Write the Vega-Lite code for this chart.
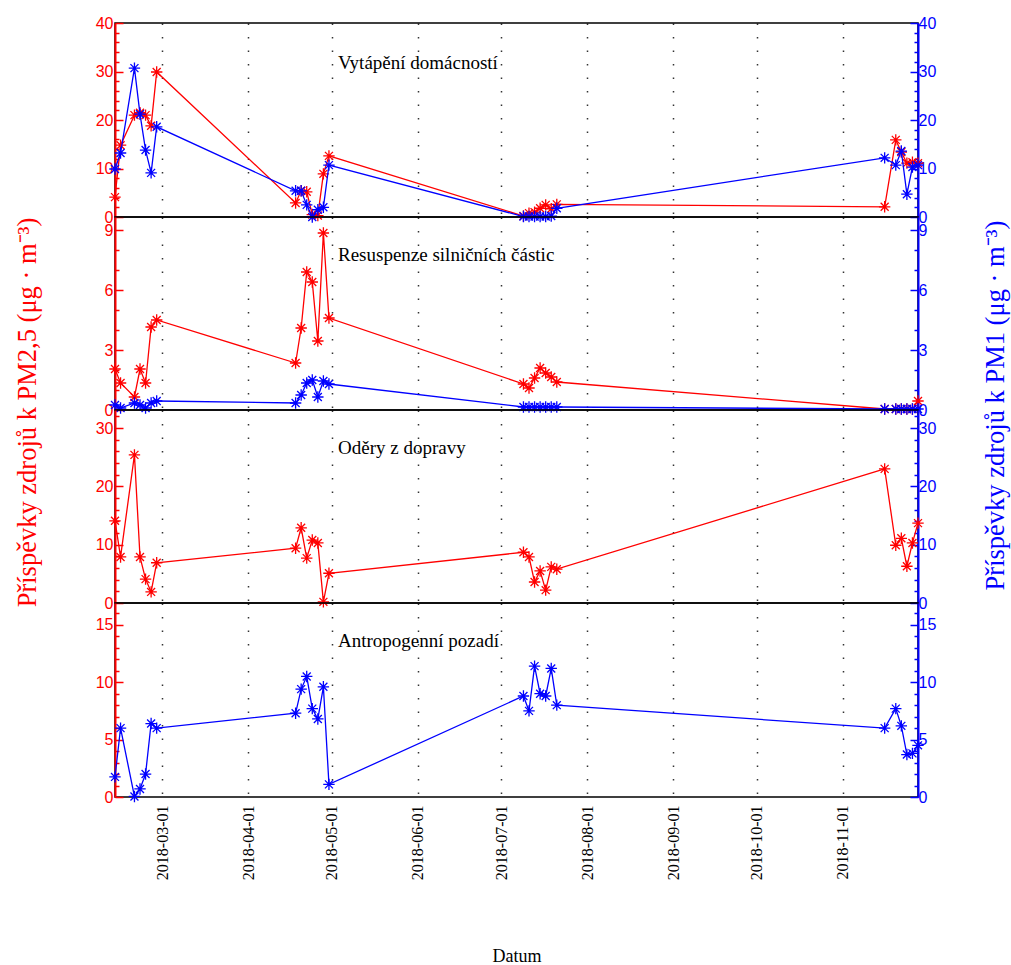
{
  "$schema": "https://vega.github.io/schema/vega-lite/v6.json",
  "background": "white",
  "padding": {"left": 13, "top": 14, "right": 5, "bottom": 5},
  "data": {"values": [
    {"z": "Vytápění domácností", "d": "2018-02-12", "pm25": 4.1, "pm1": 9.9},
    {"z": "Vytápění domácností", "d": "2018-02-14", "pm25": 14.8, "pm1": 13.2},
    {"z": "Vytápění domácností", "d": "2018-02-19", "pm25": 21, "pm1": 30.7},
    {"z": "Vytápění domácností", "d": "2018-02-21", "pm25": 21.5, "pm1": 21.2},
    {"z": "Vytápění domácností", "d": "2018-02-23", "pm25": 21, "pm1": 13.8},
    {"z": "Vytápění domácností", "d": "2018-02-25", "pm25": 18.8, "pm1": 9.1},
    {"z": "Vytápění domácností", "d": "2018-02-27", "pm25": 29.9, "pm1": 18.6},
    {"z": "Vytápění domácností", "d": "2018-04-18", "pm25": 2.9, "pm1": 5.4},
    {"z": "Vytápění domácností", "d": "2018-04-20", "pm25": 5.4, "pm1": 5.4},
    {"z": "Vytápění domácností", "d": "2018-04-22", "pm25": 5.2, "pm1": 2.5},
    {"z": "Vytápění domácností", "d": "2018-04-24", "pm25": 0.5, "pm1": 0},
    {"z": "Vytápění domácností", "d": "2018-04-26", "pm25": 0.3, "pm1": 1.5},
    {"z": "Vytápění domácností", "d": "2018-04-28", "pm25": 8.9, "pm1": 2},
    {"z": "Vytápění domácností", "d": "2018-04-30", "pm25": 12.6, "pm1": 10.7},
    {"z": "Vytápění domácností", "d": "2018-07-09", "pm25": 0.2, "pm1": 0.1},
    {"z": "Vytápění domácností", "d": "2018-07-11", "pm25": 0.8, "pm1": 0.1},
    {"z": "Vytápění domácností", "d": "2018-07-13", "pm25": 1.0, "pm1": 0.1},
    {"z": "Vytápění domácností", "d": "2018-07-15", "pm25": 1.8, "pm1": 0.1},
    {"z": "Vytápění domácností", "d": "2018-07-17", "pm25": 2.5, "pm1": 0.1},
    {"z": "Vytápění domácností", "d": "2018-07-19", "pm25": 1.7, "pm1": 0.2},
    {"z": "Vytápění domácností", "d": "2018-07-21", "pm25": 2.6, "pm1": 1.8},
    {"z": "Vytápění domácností", "d": "2018-11-16", "pm25": 2.1, "pm1": 12.2},
    {"z": "Vytápění domácností", "d": "2018-11-20", "pm25": 15.9, "pm1": 10.7},
    {"z": "Vytápění domácností", "d": "2018-11-22", "pm25": 13.4, "pm1": 13.6},
    {"z": "Vytápění domácností", "d": "2018-11-24", "pm25": 11.1, "pm1": 4.7},
    {"z": "Vytápění domácností", "d": "2018-11-26", "pm25": 11.3, "pm1": 10.3},
    {"z": "Vytápění domácností", "d": "2018-11-28", "pm25": 11.1, "pm1": 10.7},

    {"z": "Resuspenze silničních částic", "d": "2018-02-12", "pm25": 2.05, "pm1": 0.25},
    {"z": "Resuspenze silničních částic", "d": "2018-02-14", "pm25": 1.35, "pm1": 0.1},
    {"z": "Resuspenze silničních částic", "d": "2018-02-19", "pm25": 0.65, "pm1": 0.35},
    {"z": "Resuspenze silničních částic", "d": "2018-02-21", "pm25": 2.05, "pm1": 0.25},
    {"z": "Resuspenze silničních částic", "d": "2018-02-23", "pm25": 1.35, "pm1": 0.1},
    {"z": "Resuspenze silničních částic", "d": "2018-02-25", "pm25": 4.15, "pm1": 0.35},
    {"z": "Resuspenze silničních částic", "d": "2018-02-27", "pm25": 4.5, "pm1": 0.45},
    {"z": "Resuspenze silničních částic", "d": "2018-04-18", "pm25": 2.35, "pm1": 0.35},
    {"z": "Resuspenze silničních částic", "d": "2018-04-20", "pm25": 4.1, "pm1": 0.75},
    {"z": "Resuspenze silničních částic", "d": "2018-04-22", "pm25": 6.9, "pm1": 1.35},
    {"z": "Resuspenze silničních částic", "d": "2018-04-24", "pm25": 6.4, "pm1": 1.5},
    {"z": "Resuspenze silničních částic", "d": "2018-04-26", "pm25": 3.45, "pm1": 0.65},
    {"z": "Resuspenze silničních částic", "d": "2018-04-28", "pm25": 8.85, "pm1": 1.45},
    {"z": "Resuspenze silničních částic", "d": "2018-04-30", "pm25": 4.6, "pm1": 1.3},
    {"z": "Resuspenze silničních částic", "d": "2018-07-09", "pm25": 1.3, "pm1": 0.15},
    {"z": "Resuspenze silničních částic", "d": "2018-07-11", "pm25": 1.1, "pm1": 0.15},
    {"z": "Resuspenze silničních částic", "d": "2018-07-13", "pm25": 1.6, "pm1": 0.15},
    {"z": "Resuspenze silničních částic", "d": "2018-07-15", "pm25": 2.1, "pm1": 0.15},
    {"z": "Resuspenze silničních částic", "d": "2018-07-17", "pm25": 1.85, "pm1": 0.15},
    {"z": "Resuspenze silničních částic", "d": "2018-07-19", "pm25": 1.65, "pm1": 0.15},
    {"z": "Resuspenze silničních částic", "d": "2018-07-21", "pm25": 1.4, "pm1": 0.15},
    {"z": "Resuspenze silničních částic", "d": "2018-11-16", "pm25": 0.05, "pm1": 0.05},
    {"z": "Resuspenze silničních částic", "d": "2018-11-20", "pm25": 0.05, "pm1": 0.05},
    {"z": "Resuspenze silničních částic", "d": "2018-11-22", "pm25": 0.05, "pm1": 0.05},
    {"z": "Resuspenze silničních částic", "d": "2018-11-24", "pm25": 0.05, "pm1": 0.05},
    {"z": "Resuspenze silničních částic", "d": "2018-11-26", "pm25": 0.05, "pm1": 0.05},
    {"z": "Resuspenze silničních částic", "d": "2018-11-28", "pm25": 0.45, "pm1": 0.05},

    {"z": "Oděry z dopravy", "d": "2018-02-12", "pm25": 14.1},
    {"z": "Oděry z dopravy", "d": "2018-02-14", "pm25": 7.9},
    {"z": "Oděry z dopravy", "d": "2018-02-19", "pm25": 25.4},
    {"z": "Oděry z dopravy", "d": "2018-02-21", "pm25": 7.9},
    {"z": "Oděry z dopravy", "d": "2018-02-23", "pm25": 4.1},
    {"z": "Oděry z dopravy", "d": "2018-02-25", "pm25": 1.9},
    {"z": "Oděry z dopravy", "d": "2018-02-27", "pm25": 6.9},
    {"z": "Oděry z dopravy", "d": "2018-04-18", "pm25": 9.4},
    {"z": "Oděry z dopravy", "d": "2018-04-20", "pm25": 12.9},
    {"z": "Oděry z dopravy", "d": "2018-04-22", "pm25": 7.7},
    {"z": "Oděry z dopravy", "d": "2018-04-24", "pm25": 10.8},
    {"z": "Oděry z dopravy", "d": "2018-04-26", "pm25": 10.3},
    {"z": "Oděry z dopravy", "d": "2018-04-28", "pm25": 0.2},
    {"z": "Oděry z dopravy", "d": "2018-04-30", "pm25": 5.1},
    {"z": "Oděry z dopravy", "d": "2018-07-09", "pm25": 8.7},
    {"z": "Oděry z dopravy", "d": "2018-07-11", "pm25": 7.9},
    {"z": "Oděry z dopravy", "d": "2018-07-13", "pm25": 3.6},
    {"z": "Oděry z dopravy", "d": "2018-07-15", "pm25": 5.5},
    {"z": "Oděry z dopravy", "d": "2018-07-17", "pm25": 2.2},
    {"z": "Oděry z dopravy", "d": "2018-07-19", "pm25": 6.2},
    {"z": "Oděry z dopravy", "d": "2018-07-21", "pm25": 5.8},
    {"z": "Oděry z dopravy", "d": "2018-11-16", "pm25": 23},
    {"z": "Oděry z dopravy", "d": "2018-11-20", "pm25": 9.9},
    {"z": "Oděry z dopravy", "d": "2018-11-22", "pm25": 11.1},
    {"z": "Oděry z dopravy", "d": "2018-11-24", "pm25": 6.3},
    {"z": "Oděry z dopravy", "d": "2018-11-26", "pm25": 10.3},
    {"z": "Oděry z dopravy", "d": "2018-11-28", "pm25": 13.7},

    {"z": "Antropogenní pozadí", "d": "2018-02-12", "pm1": 1.75},
    {"z": "Antropogenní pozadí", "d": "2018-02-14", "pm1": 6.0},
    {"z": "Antropogenní pozadí", "d": "2018-02-19", "pm1": 0.05},
    {"z": "Antropogenní pozadí", "d": "2018-02-21", "pm1": 0.7},
    {"z": "Antropogenní pozadí", "d": "2018-02-23", "pm1": 2.0},
    {"z": "Antropogenní pozadí", "d": "2018-02-25", "pm1": 6.4},
    {"z": "Antropogenní pozadí", "d": "2018-02-27", "pm1": 6.0},
    {"z": "Antropogenní pozadí", "d": "2018-04-18", "pm1": 7.3},
    {"z": "Antropogenní pozadí", "d": "2018-04-20", "pm1": 9.4},
    {"z": "Antropogenní pozadí", "d": "2018-04-22", "pm1": 10.5},
    {"z": "Antropogenní pozadí", "d": "2018-04-24", "pm1": 7.7},
    {"z": "Antropogenní pozadí", "d": "2018-04-26", "pm1": 6.8},
    {"z": "Antropogenní pozadí", "d": "2018-04-28", "pm1": 9.6},
    {"z": "Antropogenní pozadí", "d": "2018-04-30", "pm1": 1.1},
    {"z": "Antropogenní pozadí", "d": "2018-07-09", "pm1": 8.8},
    {"z": "Antropogenní pozadí", "d": "2018-07-11", "pm1": 7.5},
    {"z": "Antropogenní pozadí", "d": "2018-07-13", "pm1": 11.4},
    {"z": "Antropogenní pozadí", "d": "2018-07-15", "pm1": 9.0},
    {"z": "Antropogenní pozadí", "d": "2018-07-17", "pm1": 8.8},
    {"z": "Antropogenní pozadí", "d": "2018-07-19", "pm1": 11.2},
    {"z": "Antropogenní pozadí", "d": "2018-07-21", "pm1": 8.0},
    {"z": "Antropogenní pozadí", "d": "2018-11-16", "pm1": 6.0},
    {"z": "Antropogenní pozadí", "d": "2018-11-20", "pm1": 7.7},
    {"z": "Antropogenní pozadí", "d": "2018-11-22", "pm1": 6.2},
    {"z": "Antropogenní pozadí", "d": "2018-11-24", "pm1": 3.7},
    {"z": "Antropogenní pozadí", "d": "2018-11-26", "pm1": 3.8},
    {"z": "Antropogenní pozadí", "d": "2018-11-28", "pm1": 4.5}
  ]},
  "config": {
    "view": {"stroke": "#000000", "strokeWidth": 1.5},
    "axis": {"labelFont": "Liberation Sans", "labelFontSize": 16, "titleFont": "Liberation Serif", "titleFontWeight": "normal"},
    "title": {"font": "Liberation Serif", "fontSize": 19, "fontWeight": "normal", "anchor": "start", "frame": "group", "color": "#000000", "baseline": "middle", "dx": 223, "offset": -48},
    "line": {"strokeWidth": 1.3},
    "point": {"filled": false, "strokeWidth": 1.3, "size": 130, "opacity": 1, "shape": "M-1,0L1,0M0,-1L0,1M-0.7,-0.7L0.7,0.7M-0.7,0.7L0.7,-0.7"}
  },
  "spacing": 0,
  "bounds": "flush",
  "vconcat": [
    {
      "width": 803, "height": 194,
      "title": {"text": "Vytápění domácností", "offset": -58},
      "transform": [{"filter": {"field": "z", "equal": "Vytápění domácností"}}],
      "encoding": {"x": {"field": "d", "type": "temporal", "scale": {"type": "utc", "domain": [{"year": 2018, "month": 2, "date": 12, "utc": true}, {"year": 2018, "month": 11, "date": 28, "utc": true}]},
        "axis": {"grid": true, "gridColor": "#000000", "gridDash": [1.5, 12], "gridWidth": 1.5, "gridOpacity": 0.8, "labels": false, "ticks": false, "domain": false, "title": null,
          "values": [{"year": 2018, "month": 3, "date": 1, "utc": true}, {"year": 2018, "month": 4, "date": 1, "utc": true}, {"year": 2018, "month": 5, "date": 1, "utc": true}, {"year": 2018, "month": 6, "date": 1, "utc": true}, {"year": 2018, "month": 7, "date": 1, "utc": true}, {"year": 2018, "month": 8, "date": 1, "utc": true}, {"year": 2018, "month": 9, "date": 1, "utc": true}, {"year": 2018, "month": 10, "date": 1, "utc": true}, {"year": 2018, "month": 11, "date": 1, "utc": true}]}}},
      "layer": [
        {"encoding": {"y": {"field": "pm25", "type": "quantitative", "scale": {"domain": [0, 40], "nice": false},
          "axis": {"orient": "left", "title": null, "grid": false, "values": [0,2,4,6,8,10,12,14,16,18,20,22,24,26,28,30,32,34,36,38,40], "labelExpr": "datum.value % 10 === 0 ? datum.label : ''", "tickSize": {"condition": {"test": "datum.value % 10 === 0", "value": -8}, "value": -4}, "domainColor": "#ff0000", "domainWidth": 2, "tickColor": "#ff0000", "tickWidth": 1.5, "labelColor": "#ff0000", "labelPadding": 10}}},
         "layer": [{"mark": {"type": "line", "color": "#ff0000"}}, {"mark": {"type": "point", "color": "#ff0000"}}]},
        {"encoding": {"y": {"field": "pm1", "type": "quantitative", "scale": {"domain": [0, 40], "nice": false},
          "axis": {"orient": "right", "title": null, "grid": false, "values": [0,2,4,6,8,10,12,14,16,18,20,22,24,26,28,30,32,34,36,38,40], "labelExpr": "datum.value % 10 === 0 ? datum.label : ''", "tickSize": {"condition": {"test": "datum.value % 10 === 0", "value": -8}, "value": -4}, "domainColor": "#0000ff", "domainWidth": 2, "tickColor": "#0000ff", "tickWidth": 1.5, "labelColor": "#0000ff", "labelPadding": 8}}},
         "layer": [{"mark": {"type": "line", "color": "#0000ff"}}, {"mark": {"type": "point", "color": "#0000ff"}}]}
      ],
      "resolve": {"scale": {"y": "independent"}}
    },
    {
      "width": 803, "height": 193,
      "title": "Resuspenze silničních částic",
      "transform": [{"filter": {"field": "z", "equal": "Resuspenze silničních částic"}}],
      "encoding": {"x": {"field": "d", "type": "temporal", "scale": {"type": "utc", "domain": [{"year": 2018, "month": 2, "date": 12, "utc": true}, {"year": 2018, "month": 11, "date": 28, "utc": true}]},
        "axis": {"grid": true, "gridColor": "#000000", "gridDash": [1.5, 12], "gridWidth": 1.5, "gridOpacity": 0.8, "labels": false, "ticks": false, "domain": false, "title": null,
          "values": [{"year": 2018, "month": 3, "date": 1, "utc": true}, {"year": 2018, "month": 4, "date": 1, "utc": true}, {"year": 2018, "month": 5, "date": 1, "utc": true}, {"year": 2018, "month": 6, "date": 1, "utc": true}, {"year": 2018, "month": 7, "date": 1, "utc": true}, {"year": 2018, "month": 8, "date": 1, "utc": true}, {"year": 2018, "month": 9, "date": 1, "utc": true}, {"year": 2018, "month": 10, "date": 1, "utc": true}, {"year": 2018, "month": 11, "date": 1, "utc": true}]}}},
      "layer": [
        {"encoding": {"y": {"field": "pm25", "type": "quantitative", "scale": {"domain": [0, 9.65], "nice": false},
          "axis": {"orient": "left", "grid": false, "values": [0,1,2,3,4,5,6,7,8,9], "labelExpr": "datum.value % 3 === 0 ? datum.label : ''", "tickSize": {"condition": {"test": "datum.value % 3 === 0", "value": -8}, "value": -4}, "domainColor": "#ff0000", "domainWidth": 2, "tickColor": "#ff0000", "tickWidth": 1.5, "labelColor": "#ff0000", "labelPadding": 10,
            "title": "Příspěvky zdrojů k PM2,5 (μg · m⁻³)", "titleColor": "#ff0000", "titleFontSize": 26.5, "titleAngle": -90, "titleAlign": "center", "titleBaseline": "middle", "titleX": -88, "titleY": 195}}},
         "layer": [{"mark": {"type": "line", "color": "#ff0000"}}, {"mark": {"type": "point", "color": "#ff0000"}}]},
        {"encoding": {"y": {"field": "pm1", "type": "quantitative", "scale": {"domain": [0, 9.65], "nice": false},
          "axis": {"orient": "right", "grid": false, "values": [0,1,2,3,4,5,6,7,8,9], "labelExpr": "datum.value % 3 === 0 ? datum.label : ''", "tickSize": {"condition": {"test": "datum.value % 3 === 0", "value": -8}, "value": -4}, "domainColor": "#0000ff", "domainWidth": 2, "tickColor": "#0000ff", "tickWidth": 1.5, "labelColor": "#0000ff", "labelPadding": 8,
            "title": "Příspěvky zdrojů k PM1 (μg · m⁻³)", "titleColor": "#0000ff", "titleFontSize": 26.5, "titleAngle": -90, "titleAlign": "center", "titleBaseline": "middle", "titleX": 77, "titleY": 188}}},
         "layer": [{"mark": {"type": "line", "color": "#0000ff"}}, {"mark": {"type": "point", "color": "#0000ff"}}]}
      ],
      "resolve": {"scale": {"y": "independent"}}
    },
    {
      "width": 803, "height": 193,
      "title": "Oděry z dopravy",
      "transform": [{"filter": {"field": "z", "equal": "Oděry z dopravy"}}],
      "encoding": {"x": {"field": "d", "type": "temporal", "scale": {"type": "utc", "domain": [{"year": 2018, "month": 2, "date": 12, "utc": true}, {"year": 2018, "month": 11, "date": 28, "utc": true}]},
        "axis": {"grid": true, "gridColor": "#000000", "gridDash": [1.5, 12], "gridWidth": 1.5, "gridOpacity": 0.8, "labels": false, "ticks": false, "domain": false, "title": null,
          "values": [{"year": 2018, "month": 3, "date": 1, "utc": true}, {"year": 2018, "month": 4, "date": 1, "utc": true}, {"year": 2018, "month": 5, "date": 1, "utc": true}, {"year": 2018, "month": 6, "date": 1, "utc": true}, {"year": 2018, "month": 7, "date": 1, "utc": true}, {"year": 2018, "month": 8, "date": 1, "utc": true}, {"year": 2018, "month": 9, "date": 1, "utc": true}, {"year": 2018, "month": 10, "date": 1, "utc": true}, {"year": 2018, "month": 11, "date": 1, "utc": true}]}}},
      "layer": [
        {"encoding": {"y": {"field": "pm25", "type": "quantitative", "scale": {"domain": [0, 33.1], "nice": false},
          "axis": {"orient": "left", "title": null, "grid": false, "values": [0,2,4,6,8,10,12,14,16,18,20,22,24,26,28,30,32], "labelExpr": "datum.value % 10 === 0 ? datum.label : ''", "tickSize": {"condition": {"test": "datum.value % 10 === 0", "value": -8}, "value": -4}, "domainColor": "#ff0000", "domainWidth": 2, "tickColor": "#ff0000", "tickWidth": 1.5, "labelColor": "#ff0000", "labelPadding": 10}}},
         "layer": [{"mark": {"type": "line", "color": "#ff0000"}}, {"mark": {"type": "point", "color": "#ff0000"}}]},
        {"encoding": {"y": {"field": "pm25", "type": "quantitative", "scale": {"domain": [0, 33.1], "nice": false},
          "axis": {"orient": "right", "title": null, "grid": false, "values": [0,2,4,6,8,10,12,14,16,18,20,22,24,26,28,30,32], "labelExpr": "datum.value % 10 === 0 ? datum.label : ''", "tickSize": {"condition": {"test": "datum.value % 10 === 0", "value": -8}, "value": -4}, "domainColor": "#0000ff", "domainWidth": 2, "tickColor": "#0000ff", "tickWidth": 1.5, "labelColor": "#0000ff", "labelPadding": 8}}},
         "mark": {"type": "point", "opacity": 0}}
      ],
      "resolve": {"scale": {"y": "independent"}}
    },
    {
      "width": 803, "height": 194,
      "title": "Antropogenní pozadí",
      "transform": [{"filter": {"field": "z", "equal": "Antropogenní pozadí"}}],
      "encoding": {"x": {"field": "d", "type": "temporal", "scale": {"type": "utc", "domain": [{"year": 2018, "month": 2, "date": 12, "utc": true}, {"year": 2018, "month": 11, "date": 28, "utc": true}]},
        "axis": {"grid": true, "gridColor": "#000000", "gridDash": [1.5, 12], "gridWidth": 1.5, "gridOpacity": 0.8, "ticks": false, "domain": false, "format": "%Y-%m-%d", "labelAngle": -90, "labelFont": "Liberation Serif", "labelFontSize": 16, "labelPadding": 8,
          "title": "Datum", "titleFontSize": 18, "titlePadding": 68,
          "values": [{"year": 2018, "month": 3, "date": 1, "utc": true}, {"year": 2018, "month": 4, "date": 1, "utc": true}, {"year": 2018, "month": 5, "date": 1, "utc": true}, {"year": 2018, "month": 6, "date": 1, "utc": true}, {"year": 2018, "month": 7, "date": 1, "utc": true}, {"year": 2018, "month": 8, "date": 1, "utc": true}, {"year": 2018, "month": 9, "date": 1, "utc": true}, {"year": 2018, "month": 10, "date": 1, "utc": true}, {"year": 2018, "month": 11, "date": 1, "utc": true}]}}},
      "layer": [
        {"encoding": {"y": {"field": "pm1", "type": "quantitative", "scale": {"domain": [0, 16.9], "nice": false},
          "axis": {"orient": "left", "title": null, "grid": false, "values": [0,1,2,3,4,5,6,7,8,9,10,11,12,13,14,15,16], "labelExpr": "datum.value % 5 === 0 ? datum.label : ''", "tickSize": {"condition": {"test": "datum.value % 5 === 0", "value": -8}, "value": -4}, "domainColor": "#ff0000", "domainWidth": 2, "tickColor": "#ff0000", "tickWidth": 1.5, "labelColor": "#ff0000", "labelPadding": 10}}},
         "mark": {"type": "point", "opacity": 0}},
        {"encoding": {"y": {"field": "pm1", "type": "quantitative", "scale": {"domain": [0, 16.9], "nice": false},
          "axis": {"orient": "right", "title": null, "grid": false, "values": [0,1,2,3,4,5,6,7,8,9,10,11,12,13,14,15,16], "labelExpr": "datum.value % 5 === 0 ? datum.label : ''", "tickSize": {"condition": {"test": "datum.value % 5 === 0", "value": -8}, "value": -4}, "domainColor": "#0000ff", "domainWidth": 2, "tickColor": "#0000ff", "tickWidth": 1.5, "labelColor": "#0000ff", "labelPadding": 8}}},
         "layer": [{"mark": {"type": "line", "color": "#0000ff"}}, {"mark": {"type": "point", "color": "#0000ff"}}]}
      ],
      "resolve": {"scale": {"y": "independent"}}
    }
  ]
}
